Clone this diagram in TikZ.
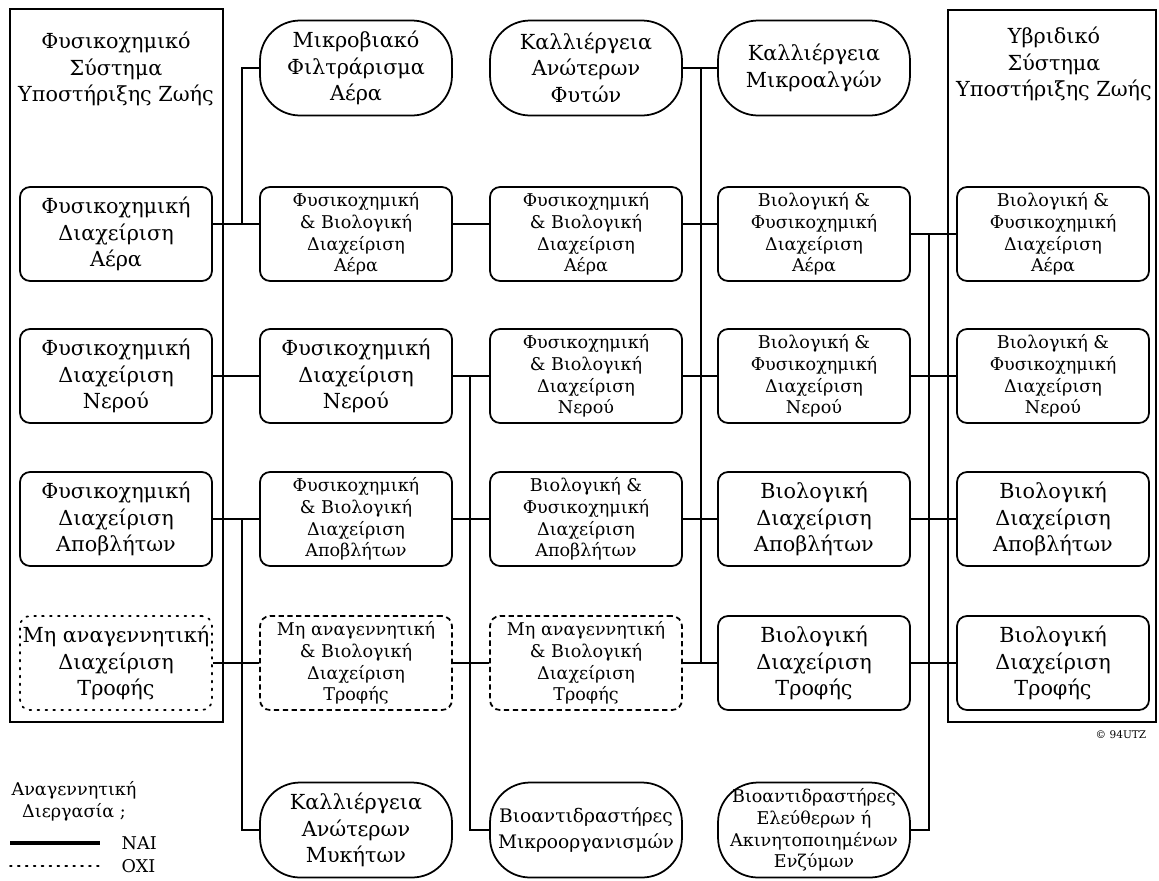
\documentclass[tikz,border=0pt]{standalone}
\usepackage{fontspec}
\setmainfont{DejaVu Serif}
\usetikzlibrary{positioning}

\newcommand{\bigtxt}{\fontsize{11.8}{15.2}\selectfont}
\newcommand{\smalltxt}{\fontsize{10}{12.4}\selectfont}

\begin{document}
\begin{tikzpicture}[x=0.02cm, y=-0.02cm, line width=1pt,
  box/.style={draw, rounded corners=0.2cm, minimum width=3.84cm, minimum height=1.88cm, inner sep=0pt, align=center},
  big/.style={box, font=\bigtxt},
  small/.style={box, font=\smalltxt},
  pill/.style={draw, rounded corners=0.8cm, minimum width=3.84cm, minimum height=1.9cm, inner sep=0pt, align=center, font=\bigtxt},
  nogo/.style={dash pattern=on 3pt off 2pt},
  nodots/.style={dash pattern=on 1pt off 3.5pt, line cap=round}]
  \useasboundingbox [fill=white] (0,0) rectangle (1159,880);

  % the two systems
  \draw (10,9) rectangle (223,722);
  \draw (948,10) rectangle (1156,722);
  \node [font=\bigtxt, align=center] (physico) at (116,69) {Φυσικοχημικό\\Σύστημα\\Υποστήριξης Ζωής};
  \node [font=\bigtxt, align=center] (hybrid) at (1054,64) {Υβριδικό\\Σύστημα\\Υποστήριξης Ζωής};

  % top row
  \node [pill] (t2) at (356,68) {Μικροβιακό\\Φιλτράρισμα\\Αέρα};
  \node [pill] (t3) at (586,68) {Καλλιέργεια\\Ανώτερων\\Φυτών};
  \node [pill] (t4) at (814,68) {Καλλιέργεια\\Μικροαλγών};

  % air
  \node [big] (c1a) at (116,234) {Φυσικοχημική\\Διαχείριση\\Αέρα};
  \node [small] (c2a) at (356,234) {Φυσικοχημική\\\& Βιολογική\\Διαχείριση\\Αέρα};
  \node [small] (c3a) at (586,234) {Φυσικοχημική\\\& Βιολογική\\Διαχείριση\\Αέρα};
  \node [small] (c4a) at (814,234) {Βιολογική \&\\Φυσικοχημική\\Διαχείριση\\Αέρα};
  \node [small] (c5a) at (1053,234) {Βιολογική \&\\Φυσικοχημική\\Διαχείριση\\Αέρα};

  % water
  \node [big] (c1b) at (116,376) {Φυσικοχημική\\Διαχείριση\\Νερού};
  \node [big] (c2b) at (356,376) {Φυσικοχημική\\Διαχείριση\\Νερού};
  \node [small] (c3b) at (586,376) {Φυσικοχημική\\\& Βιολογική\\Διαχείριση\\Νερού};
  \node [small] (c4b) at (814,376) {Βιολογική \&\\Φυσικοχημική\\Διαχείριση\\Νερού};
  \node [small] (c5b) at (1053,376) {Βιολογική \&\\Φυσικοχημική\\Διαχείριση\\Νερού};

  % waste
  \node [big] (c1c) at (116,519) {Φυσικοχημική\\Διαχείριση\\Αποβλήτων};
  \node [small] (c2c) at (356,519) {Φυσικοχημική\\\& Βιολογική\\Διαχείριση\\Αποβλήτων};
  \node [small] (c3c) at (586,519) {Βιολογική \&\\Φυσικοχημική\\Διαχείριση\\Αποβλήτων};
  \node [big] (c4c) at (814,519) {Βιολογική\\Διαχείριση\\Αποβλήτων};
  \node [big] (c5c) at (1053,519) {Βιολογική\\Διαχείριση\\Αποβλήτων};

  % food
  \node [big, nodots] (c1d) at (116,663) {Μη αναγεννητική\\Διαχείριση\\Τροφής};
  \node [small, nogo] (c2d) at (356,663) {Μη αναγεννητική\\\& Βιολογική\\Διαχείριση\\Τροφής};
  \node [small, nogo] (c3d) at (586,663) {Μη αναγεννητική\\\& Βιολογική\\Διαχείριση\\Τροφής};
  \node [big] (c4d) at (814,663) {Βιολογική\\Διαχείριση\\Τροφής};
  \node [big] (c5d) at (1053,663) {Βιολογική\\Διαχείριση\\Τροφής};

  % bottom row
  \node [pill] (b2) at (356,830) {Καλλιέργεια\\Ανώτερων\\Μυκήτων};
  \node [pill, font=\fontsize{10.6}{15.2}\selectfont] (b3) at (586,830) {Βιοαντιδραστήρες\\Μικροοργανισμών};
  \node [pill, font=\smalltxt] (b4) at (814,830) {Βιοαντιδραστήρες\\Ελεύθερων ή\\Ακινητοποιημένων\\Ενζύμων};

  % rows (air line sits a little high on the left)
  \draw ([yshift=0.2cm]c1a.east) -- ([yshift=0.2cm]c2a.west);
  \draw ([yshift=0.2cm]c2a.east) -- ([yshift=0.2cm]c3a.west);
  \draw ([yshift=0.2cm]c3a.east) -- ([yshift=0.2cm]c4a.west);
  \draw (c4a) -- (c5a);
  \foreach \r in {b,c,d} {
    \draw (c1\r) -- (c2\r);
    \draw (c2\r) -- (c3\r);
    \draw (c3\r) -- (c4\r);
    \draw (c4\r) -- (c5\r);
  }

  % buses
  \coordinate (j1a) at (242,224);
  \coordinate (j1c) at (242,519);
  \coordinate (j2b) at (470,376);
  \coordinate (j3t) at (701,68);
  \coordinate (j3d) at (701,663);
  \coordinate (j4a) at (929,234);
  \draw (t2) -| (j1a);
  \draw (j1c) |- (b2);
  \draw (j2b) |- (b3);
  \draw (t3) -- (t4);
  \draw (j3t) -- (j3d);
  \draw (j4a) |- (b4);

  % legend
  \node [font=\smalltxt, align=center] (regen) at (74,801) {Αναγεννητική\\Διεργασία ;};
  \node [font=\smalltxt, anchor=west] (yes) at (115,843) {NAI};
  \node [font=\smalltxt, anchor=west] (no) at (115,866) {OXI};
  \coordinate (yesl) at (10,843);
  \coordinate (nol) at (10,866);
  \draw [line width=2pt] (yesl) -- ([xshift=-0.3cm]yes.west);
  \draw [nodots] (nol) -- ([xshift=-0.3cm]no.west);

  \node [font=\fontsize{6}{7}\selectfont, anchor=east] (copy) at (1153,735) {© 94UTZ};
\end{tikzpicture}
\end{document}
